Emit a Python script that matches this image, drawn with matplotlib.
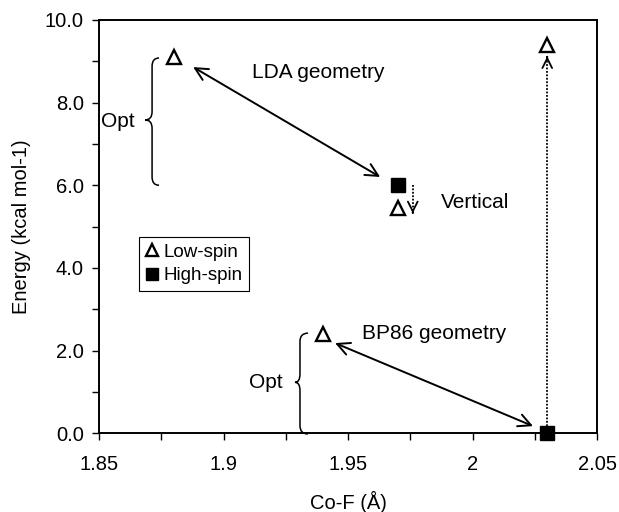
import matplotlib
matplotlib.use("Agg")
import matplotlib.pyplot as plt
from matplotlib.path import Path
from matplotlib.patches import PathPatch

plt.rcParams['font.family'] = ['Liberation Sans', 'DejaVu Sans']

# ---- data ----
low_x = [1.88, 1.97, 1.94, 2.03]
low_y = [9.10, 5.45, 2.40, 9.40]
high_x = [1.97, 2.03]
high_y = [6.00, 0.00]

x_ticks = [1.85, 1.90, 1.95, 2.00, 2.05]
x_tick_labels = ['1.85', '1.9', '1.95', '2', '2.05']
y_ticks = [0, 2, 4, 6, 8, 10]
y_tick_labels = ['0.0', '2.0', '4.0', '6.0', '8.0', '10.0']

x_label = 'Co-F (Å)'
y_label = 'Energy (kcal mol-1)'
series_labels = ['Low-spin', 'High-spin']

# annotation texts
texts = ['LDA geometry', 'Vertical', 'BP86 geometry', 'Opt', 'Opt']
text_x = [1.938, 2.001, 1.9846, 1.8576, 1.917]
text_y = [8.72, 5.59, 2.42, 7.55, 1.23]

# double arrows (start, end)
lda_arrow = [(1.8878, 8.86), (1.9629, 6.20)]
bp86_arrow = [(1.9448, 2.18), (2.0243, 0.17)]
# dotted vertical arrows (from, to)
vert_short = [(1.976, 6.00), (1.976, 5.32)]
vert_long = [(2.03, 0.00), (2.03, 9.12)]

# braces: spine x, tip x, end x, top y, bottom y, mid y, curl
braces = [
    (1.8713, 1.8685, 1.8741, 9.08, 6.00, 7.58, 0.20),
    (1.9307, 1.9287, 1.9339, 2.42, -0.02, 1.23, 0.20),
]

fig = plt.figure(figsize=(6.19, 5.12), dpi=100)
ax = fig.add_axes([0.160, 0.154, 0.8045, 0.807])

ax.set_xlim(1.85, 2.05)
ax.set_ylim(0, 10)

l1, = ax.plot(low_x, low_y, linestyle='none', marker='^', markersize=10,
              markerfacecolor='white', markeredgecolor='black',
              markeredgewidth=1.7, clip_on=False, zorder=5, label=series_labels[0])
l2, = ax.plot(high_x, high_y, linestyle='none', marker='s', markersize=10.5,
              markerfacecolor='black', markeredgecolor='black',
              clip_on=False, zorder=6, label=series_labels[1])

# double arrows
for (s, e) in [lda_arrow, bp86_arrow]:
    ax.annotate('', xy=e, xytext=s,
                arrowprops=dict(arrowstyle='<->,head_length=0.9,head_width=0.45',
                                lw=1.4, color='black', shrinkA=0, shrinkB=0))

# dotted arrows: dotted shaft + solid open head
for (s, e) in [vert_short, vert_long]:
    ax.plot([s[0], e[0]], [s[1], e[1]], color='black', lw=1.3,
            linestyle=(0, (1.0, 0.9)), zorder=3)
    step = 0.02 if e[1] > s[1] else -0.02
    ax.annotate('', xy=e, xytext=(e[0], e[1] - step),
                arrowprops=dict(arrowstyle='->,head_length=0.7,head_width=0.35',
                                lw=1.3, color='black', shrinkA=0, shrinkB=0))

# braces
for (xs, xt, xe, yt, yb, ym, c) in braces:
    verts = [(xe, yt), (xs, yt), (xs, yt - c), (xs, ym + c), (xs, ym), (xt, ym),
             (xs, ym), (xs, ym - c), (xs, yb + c), (xs, yb), (xe, yb)]
    codes = [Path.MOVETO, Path.CURVE3, Path.CURVE3, Path.LINETO, Path.CURVE3,
             Path.CURVE3, Path.CURVE3, Path.CURVE3, Path.LINETO, Path.CURVE3,
             Path.CURVE3]
    ax.add_patch(PathPatch(Path(verts, codes), facecolor='none',
                           edgecolor='black', lw=1.1, clip_on=False))

for t, x, y in zip(texts, text_x, text_y):
    ax.text(x, y, t, ha='center', va='center', fontsize=15)

ax.set_xticks(x_ticks)
ax.set_xticklabels(x_tick_labels)
ax.set_yticks(y_ticks)
ax.set_yticklabels(y_tick_labels)
ax.set_xticks([1.875, 1.925, 1.975, 2.025], minor=True)
ax.set_yticks([1, 3, 5, 7, 9], minor=True)
ax.tick_params(axis='both', which='both', direction='out', length=5, width=1.0,
               labelsize=14.5)
ax.tick_params(axis='x', which='both', top=False, pad=11)
ax.tick_params(axis='y', which='both', right=False, pad=6)

for sp in ax.spines.values():
    sp.set_linewidth(1.4)

ax.set_xlabel(x_label, fontsize=14.5, labelpad=12)
ax.set_ylabel(y_label, fontsize=14.5, labelpad=10)

leg = ax.legend(handles=[l1, l2], loc='upper left', bbox_to_anchor=(0.080, 0.475),
                borderaxespad=0, fancybox=False, framealpha=1, edgecolor='black',
                fontsize=13.5, handlelength=0.7, handletextpad=0.25,
                borderpad=0.35, labelspacing=0.35, markerscale=0.85)
leg.get_frame().set_linewidth(0.8)

fig.savefig('out.png', dpi=100)
